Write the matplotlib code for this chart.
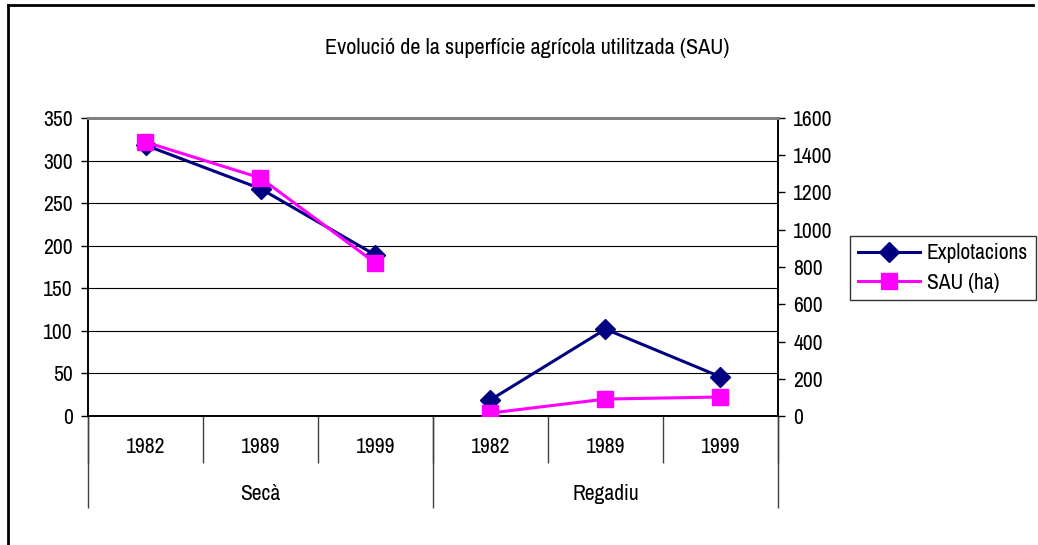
import matplotlib.pyplot as plt
import matplotlib.transforms as mtransforms
import numpy as np

# lletra estreta, com l'original (amb alternatives)
plt.rcParams["font.family"] = ["Liberation Sans Narrow", "Archivo Narrow", "Liberation Sans", "DejaVu Sans"]

# dades
anys = ["1982", "1989", "1999", "1982", "1989", "1999"]
grups = ["Secà", "Regadiu"]
explotacions = [318, 267, 189, np.nan, 19, 102, 46]
sau_ha = [1471, 1278, 821, np.nan, 16, 91, 102]

# x: 0,1,2 secà / 3,4,5 regadiu (nan trenca la línia)
x = [0, 1, 2, 2.5, 3, 4, 5]

fs = 15.5

fig = plt.figure(figsize=(10.38, 5.45), dpi=100)
ax = fig.add_axes([88 / 1038, 129 / 545, 690 / 1038, 298 / 545])
ax2 = ax.twinx()

ax.plot(x, explotacions, color="#000080", lw=2.2, marker="D", ms=10,
        label="Explotacions", zorder=3)
ax2.plot(x, sau_ha, color="#FF00FF", lw=2.2, marker="s", ms=11,
         label="SAU (ha)", zorder=3)

ax.set_xlim(-0.5, 5.5)
ax.set_ylim(0, 350)
ax2.set_ylim(0, 1600)
ax.set_yticks(np.arange(0, 351, 50))
ax2.set_yticks(np.arange(0, 1601, 200))
ax.grid(axis="y", color="black", lw=0.8)
ax.set_axisbelow(True)

for a in (ax, ax2):
    a.tick_params(axis="y", labelsize=fs, length=5, width=1, pad=6)
    a.spines["top"].set_color("#808080")
    a.spines["top"].set_linewidth(2)
    a.spines["left"].set_linewidth(1.2)
    a.spines["right"].set_linewidth(1.2)
    a.spines["bottom"].set_linewidth(1.2)

# eix de categories en dos nivells
ax.xaxis.remove_overlapping_locs = False
ax.set_xticks(np.arange(-0.5, 5.6, 1))
ax.set_xticklabels([])
ax.tick_params(axis="x", which="major", length=47 * 0.72, width=1, color="#404040")
ax.set_xticks([-0.5, 2.5, 5.5], minor=True)
ax.tick_params(axis="x", which="minor", length=92 * 0.72, width=1, color="#404040")

trans = mtransforms.blended_transform_factory(ax.transData, ax.transAxes)
for i, a in enumerate(anys):
    ax.annotate(a, (i, 0), xycoords=trans, xytext=(0, -22), textcoords="offset points",
                ha="center", va="center", fontsize=fs)
for i, g in enumerate(grups):
    ax.annotate(g, (1 + 3 * i, 0), xycoords=trans, xytext=(0, -56), textcoords="offset points",
                ha="center", va="center", fontsize=fs)

fig.text(527 / 1038, 1 - 48 / 545, "Evolució de la superfície agrícola utilitzada (SAU)",
         ha="center", va="center", fontsize=fs + 0.5)

h1, l1 = ax.get_legend_handles_labels()
h2, l2 = ax2.get_legend_handles_labels()
leg = fig.legend(h1 + h2, l1 + l2, loc="center", bbox_to_anchor=(943 / 1038, 1 - 268 / 545),
                 fontsize=fs, frameon=True, fancybox=False, edgecolor="black",
                 handlelength=2.9, borderpad=0.35, labelspacing=0.45, handletextpad=0.3)
leg.get_frame().set_linewidth(1)

# marc exterior (només esquerra i dalt visibles)
fig.add_artist(plt.Line2D([8 / 1038, 8 / 1038], [0, 1 - 5 / 545], color="black", lw=2,
                          transform=fig.transFigure))
fig.add_artist(plt.Line2D([8 / 1038, 1033 / 1038], [1 - 5 / 545, 1 - 5 / 545], color="black",
                          lw=2, transform=fig.transFigure))

fig.savefig("out.png", dpi=100)
